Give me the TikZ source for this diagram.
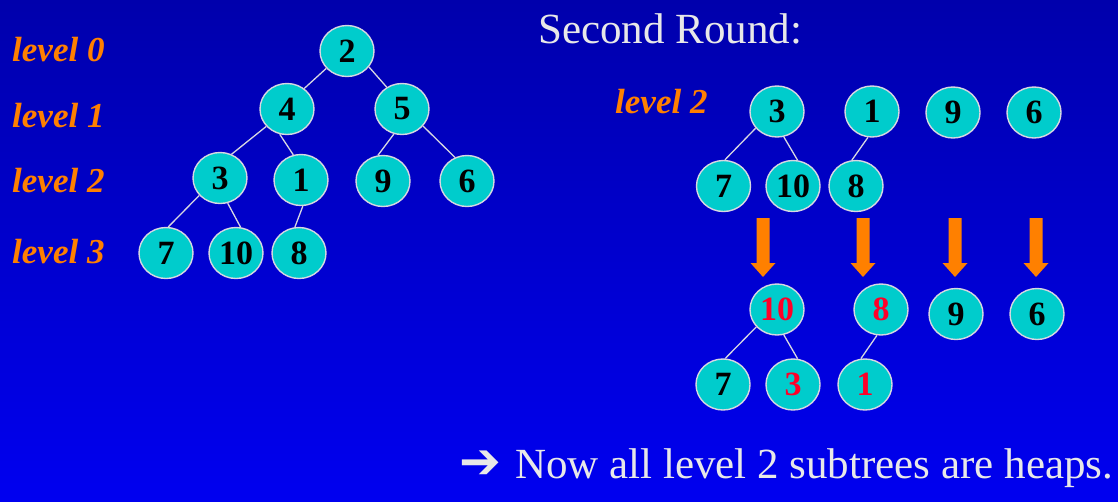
\documentclass[tikz,border=0pt]{standalone}
\usepackage{fontspec}
\setmainfont{Liberation Serif}
\newfontfamily\arrowfont{DejaVu Sans}
\usetikzlibrary{shapes.geometric}
\definecolor{bgtop}{RGB}{0,0,172}
\definecolor{bgbot}{RGB}{0,0,240}
\definecolor{nodefill}{RGB}{0,204,204}
\definecolor{rimgray}{RGB}{215,215,225}
\definecolor{lvlorange}{RGB}{255,128,0}
\definecolor{swapred}{RGB}{255,0,40}
\definecolor{capgray}{RGB}{232,232,232}

\begin{document}
\begin{tikzpicture}[x=1pt, y=-1pt,
        hn/.style={ellipse, draw=rimgray, line width=1.4pt, fill=nodefill,
                   minimum width=54pt, minimum height=51pt, inner sep=0pt,
                   font=\fontsize{34pt}{34pt}\selectfont\bfseries},
        sw/.style={hn, text=swapred},
        lvl/.style={anchor=base west, inner sep=0pt, text=lvlorange,
                    font=\fontsize{35pt}{35pt}\selectfont\bfseries\itshape},
        captext/.style={anchor=base west, inner sep=0pt, text=capgray,
                    font=\fontsize{43pt}{43pt}\selectfont},
        br/.style={draw=rimgray, line width=1.3pt}]
      \shade[top color=bgtop, bottom color=bgbot] (0,0) rectangle (1118,501);
      % level labels
      \node[lvl] (l0) at (12,61) {level 0};
      \node[lvl] (l1) at (12,127) {level 1};
      \node[lvl] (l2) at (12,192) {level 2};
      \node[lvl] (l3) at (12,263) {level 3};
      % first tree
      \node[hn] (a2) at (347,51) {2};
      \node[hn] (a4) at (287,109) {4};
      \node[hn] (a5) at (402,109) {5};
      \node[hn] (a3) at (220,178) {3};
      \node[hn] (a1) at (301,180) {1};
      \node[hn] (a9) at (383,181) {9};
      \node[hn] (a6) at (467,181) {6};
      \node[hn] (a7) at (166,253) {7};
      \node[hn] (a10) at (236,253) {10};
      \node[hn] (a8) at (299,253) {8};
      \draw[br] (a2.220) -- (a4.50);
      \draw[br] (a2.-36) -- (a5.125);
      \draw[br] (a4.220) -- (a3.64);
      \draw[br] (a4.254) -- (a1.107);
      \draw[br] (a5.252) -- (a9.101);
      \draw[br] (a5.-39) -- (a6.117);
      \draw[br] (a3.220) -- (a7.85);
      \draw[br] (a3.287) -- (a10.80);
      \draw[br] (a1.274) -- (a8.99);
      % second round, before
      \node[captext] (title) at (538,43) {Second Round:};
      \node[lvl] (rl2) at (615,113) {level 2};
      \node[hn] (b3) at (777,111.5) {3};
      \node[hn] (b1) at (872,111.5) {1};
      \node[hn] (b9) at (953,112.5) {9};
      \node[hn] (b6) at (1034,112.5) {6};
      \node[hn] (b7) at (723.5,186) {7};
      \node[hn] (b10) at (793,186) {10};
      \node[hn] (b8) at (856,186) {8};
      \draw[br] (b3.218) -- (b7.87);
      \draw[br] (b3.285) -- (b10.80);
      \draw[br] (b1.261) -- (b8.99);
      % block arrows
      \foreach \ax in {763,863,955,1036}
        \fill[lvlorange] (\ax-6.5,218) -- (\ax+6.5,218) -- (\ax+6.5,263)
          -- (\ax+12.5,263) -- (\ax,277) -- (\ax-12.5,263) -- (\ax-6.5,263) -- cycle;
      % second round, after
      \node[sw] (c10) at (777,309.5) {10};
      \node[sw] (c8) at (881,309.5) {8};
      \node[hn] (c9) at (956,314) {9};
      \node[hn] (c6) at (1037,314) {6};
      \node[hn] (c7) at (723,384.5) {7};
      \node[sw] (c3) at (793,384.5) {3};
      \node[sw] (c1) at (865,384.5) {1};
      \draw[br] (c10.220) -- (c7.85);
      \draw[br] (c10.285) -- (c3.80);
      \draw[br] (c8.261) -- (c1.99);
      \node[captext] (note) at (459,478) {{\arrowfont\bfseries\fontsize{50pt}{50pt}\selectfont ➔}\hspace{14pt}Now all level 2 subtrees are heaps.};
    \end{tikzpicture}
\end{document}
